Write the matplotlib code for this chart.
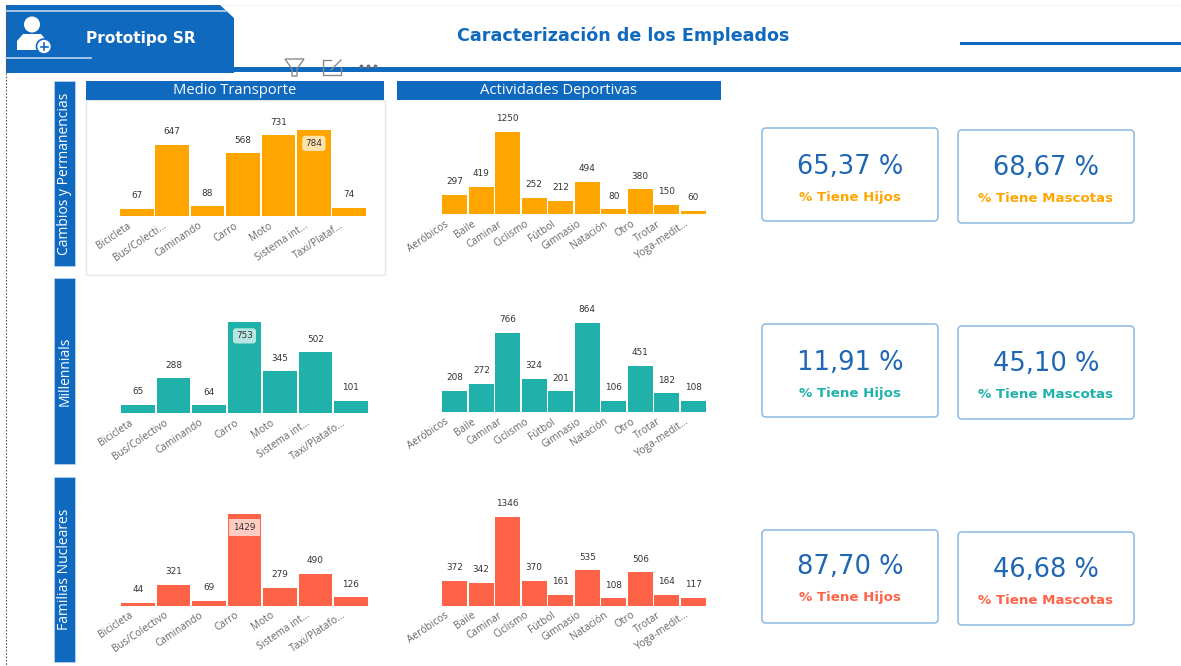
import matplotlib
matplotlib.use("Agg")
import matplotlib.pyplot as plt
from matplotlib.patches import Polygon, Rectangle, FancyBboxPatch, Circle
from matplotlib.transforms import ScaledTranslation

W, H = 1181, 666
BLUE = "#0F69BF"
FONT = "DejaVu Sans"
BODY = "Open Sans"

header_title = "Caracterización de los Empleados"
brand = "Prototipo SR"
panel_titles = ["Medio Transporte", "Actividades Deportivas"]
segments = ["Cambios y Permanencias", "Millennials", "Familias Nucleares"]
colors = ["#FFA500", "#20B2AA", "#FF6347"]

transport_labels_1 = ["Bicicleta", "Bus/Colecti...", "Caminando", "Carro", "Moto", "Sistema int...", "Taxi/Plataf..."]
transport_labels_2 = ["Bicicleta", "Bus/Colectivo", "Caminando", "Carro", "Moto", "Sistema int...", "Taxi/Platafo..."]
sport_labels = ["Aeróbicos", "Baile", "Caminar", "Ciclismo", "Fútbol", "Gimnasio", "Natación", "Otro", "Trotar", "Yoga-medit..."]

transport_1 = [67, 647, 88, 568, 731, 784, 74]
transport_2 = [65, 288, 64, 753, 345, 502, 101]
transport_3 = [44, 321, 69, 1429, 279, 490, 126]
sport_1 = [297, 419, 1250, 252, 212, 494, 80, 380, 150, 60]
sport_2 = [208, 272, 766, 324, 201, 864, 106, 451, 182, 108]
sport_3 = [372, 342, 1346, 370, 161, 535, 108, 506, 164, 117]

hijos = ["65,37 %", "11,91 %", "87,70 %"]
mascotas = ["68,67 %", "45,10 %", "46,68 %"]
hijos_label = "% Tiene Hijos"
mascotas_label = "% Tiene Mascotas"

fig = plt.figure(figsize=(W / 100, H / 100), dpi=100, facecolor="white")
bg = fig.add_axes([0, 0, 1, 1])
bg.set_xlim(0, W)
bg.set_ylim(H, 0)
bg.axis("off")


def rect(x0, y0, x1, y1, **kw):
    bg.add_patch(Rectangle((x0, y0), x1 - x0, y1 - y0, **kw))


# Header
rect(6, 5, W, 6, fc="#F3F3F3", ec="none")
bg.plot([6, 6], [6, H], color="#555555", lw=0.8, ls=(0, (1.5, 1.5)))
bg.add_patch(Polygon([(6, 5), (220, 5), (234, 18), (234, 73), (6, 73)], closed=True, fc=BLUE, ec="none"))
rect(234, 67, W, 72, fc=BLUE, ec="none")
rect(960, 42, W, 45, fc=BLUE, ec="none")
bg.plot([6, 226], [11, 11], color="#BBD6EE", lw=1.2)
bg.plot([6, 91], [58, 58], color="#BBD6EE", lw=1.2)
bg.text(141, 38, brand, color="white", fontsize=11.1, fontweight="bold", family=FONT, ha="center", va="center")
bg.text(623, 35.5, header_title, color=BLUE, fontsize=12.6, fontweight="bold", family=FONT, ha="center", va="center")

# Person icon
bg.add_patch(Circle((32, 24.5), 8, fc="white", ec="none"))
bg.add_patch(Polygon([(17, 50), (17, 41), (23, 34), (41, 34), (47, 41), (47, 50)], closed=True, fc="white", ec="none"))
bg.add_patch(Circle((44, 46.5), 7.5, fc="white", ec=BLUE, lw=1.2))
bg.plot([40.5, 47.5], [46.5, 46.5], color=BLUE, lw=1.2)
bg.plot([44, 44], [43, 50], color=BLUE, lw=1.2)

# Visual toolbar
bg.add_patch(Polygon([(285, 59), (304, 59), (297, 69), (297, 76), (292, 76), (292, 69)], closed=True, fc="none", ec="#8A8A8A", lw=1))
bg.plot([331, 323, 323, 341, 341], [60, 60, 75, 75, 67], color="#8A8A8A", lw=1)
bg.plot([331, 341], [70, 60], color="#8A8A8A", lw=1)
bg.plot([361, 368, 375], [66, 66, 66], ls="none", marker="o", ms=1.8, color="#6E6E6E")

# Section frames
side = [(81, 266), (278, 464), (477, 662)]
for (y0, y1), name in zip(side, segments):
    rect(54, y0, 75, y1, fc=BLUE, ec="#BBD6EE", lw=0.5)
    bg.text(65, (y0 + y1) / 2, name, color="white", fontsize=10, family=BODY, rotation=90, ha="center", va="center")
rect(85.5, 100, 385, 275, fc="white", ec="#E8E8E8", lw=1)
for x0, x1, name in [(86, 384, panel_titles[0]), (397, 721, panel_titles[1])]:
    rect(x0, 81, x1, 100, fc=BLUE, ec="none")
    bg.text((x0 + x1) / 2, 90.5, name, color="white", fontsize=10.6, family=BODY, ha="center", va="center")


def bars(x0, x1, top, base, labels, values, color, highlight=None, box="round,pad=0.35", tint="white"):
    ax = fig.add_axes([x0 / W, 1 - base / H, (x1 - x0) / W, (base - top) / H], facecolor="none")
    ax.bar(range(len(values)), values, width=0.95, color=color)
    ax.set_xlim(-0.5, len(values) - 0.5)
    ax.set_ylim(0, max(values))
    for s in ax.spines.values():
        s.set_visible(False)
    ax.set_yticks([])
    ax.set_xticks(range(len(values)))
    ax.tick_params(axis="x", length=0, pad=3)
    ax.set_xticklabels(labels, rotation=34, ha="right", rotation_mode="anchor",
                       fontsize=7.3, color="#666666", family=BODY)
    shift = ScaledTranslation(-7 / 72, 0, fig.dpi_scale_trans)
    for t in ax.get_xticklabels():
        t.set_transform(t.get_transform() + shift)
    for i, v in enumerate(values):
        if i == highlight:
            ax.annotate(str(v), (i, v), xytext=(0, -10), textcoords="offset points",
                        ha="center", va="center", fontsize=6.4, color="#333333", family=FONT,
                        bbox=dict(boxstyle=box, fc=tint, ec="none", alpha=0.68),
                        annotation_clip=False)
        else:
            ax.annotate(str(v), (i, v), xytext=(0, 9.5), textcoords="offset points",
                        ha="center", va="center", fontsize=6.4, color="#333333", family=FONT,
                        annotation_clip=False)


bars(119, 367, 129.5, 216, transport_labels_1, transport_1, colors[0], highlight=5)
bars(120.5, 368.5, 322, 413, transport_labels_2, transport_2, colors[1], highlight=3)
bars(120.5, 368.5, 514, 605.5, transport_labels_2, transport_3, colors[2], highlight=3, box="square,pad=0.45")
bars(441.5, 706.5, 132, 214.5, sport_labels, sport_1, colors[0])
bars(441.5, 706.5, 323, 412, sport_labels, sport_2, colors[1])
bars(441.5, 706.5, 517, 605.5, sport_labels, sport_3, colors[2])

# KPI cards
cards = [
    (762, 128, 167, 197, 958, 130, 168, 198),
    (762, 324, 363, 393, 958, 326, 364, 394),
    (762, 530, 567, 597, 958, 532, 570, 600),
]
for k, (xa, ya, va, la, xb, yb, vb, lb) in enumerate(cards):
    for x, y, vy, ly, val, lab in [(xa, ya, va, la, hijos[k], hijos_label),
                                   (xb, yb, vb, lb, mascotas[k], mascotas_label)]:
        bg.add_patch(FancyBboxPatch((x + 3, y + 3), 170, 87, boxstyle="round,pad=3,rounding_size=4",
                                    fc="white", ec="#8DB9E2", lw=1.1))
        bg.text(x + 88, vy, val, color="#1F66B5", fontsize=18.5, family=FONT, ha="center", va="center")
        bg.text(x + 88, ly, lab, color=colors[k], fontsize=9.6, fontweight="bold", family=FONT, ha="center", va="center")

fig.savefig("out.png", dpi=100)
